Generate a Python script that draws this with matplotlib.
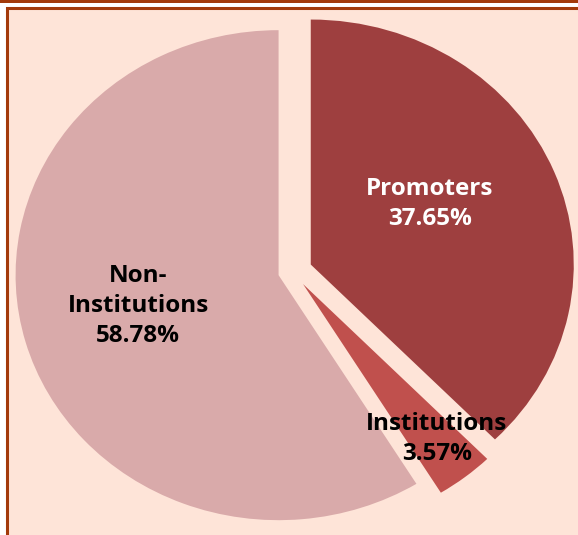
import matplotlib
matplotlib.use("Agg")
import matplotlib.pyplot as plt
from matplotlib.patches import Rectangle

# shareholding data
labels = ["Promoters", "Institutions", "Non-\nInstitutions"]
shares = [37.65, 3.57, 58.78]
colors = ["#9E3F3F", "#C0504D", "#D9AAAA"]
text_colors = ["white", "black", "black"]
explode = [0.075, 0.065, 0.055]

# label anchor positions (data units, relative to pie centre)
label_pos = [(0.523, 0.276), (0.549, -0.684), (-0.587, -0.141)]

W, H = 578, 535
fig = plt.figure(figsize=(W / 100, H / 100), dpi=100)
fig.patch.set_facecolor("white")

# frame / background
fig.patches.append(Rectangle((0, 1 - 2.5 / H), 1, 2.5 / H, transform=fig.transFigure,
                             facecolor="#A33A0A", edgecolor="none", zorder=0))
fig.patches.append(Rectangle((6.5 / W, -0.05), 1, 1.05 - 7.5 / H, transform=fig.transFigure,
                             facecolor="#FEE4D8", edgecolor="#A33A0A", linewidth=2.2, zorder=0))

ax = fig.add_axes([0, 0, 1, 1])
ax.set_zorder(2)
ax.patch.set_alpha(0)

wedges, _ = ax.pie(shares, colors=colors, explode=explode, startangle=90,
                   counterclock=False, radius=1.0,
                   wedgeprops=dict(linewidth=0))

# centre of pie in pixels and radii (image is stretched horizontally)
cx, cy = 292.5, 271.5
rx, ry = 263.0, 245.0
ax.set_aspect("auto")
ax.set_xlim(-cx / rx, (W - cx) / rx)
ax.set_ylim(-(H - cy) / ry, cy / ry)
ax.axis("off")

for lab, val, (x, y), tc in zip(labels, shares, label_pos, text_colors):
    ax.text(x, y, f"{lab}\n{val:.2f}%", ha="center", va="center",
            multialignment="center", color=tc, fontsize=17.5,
            family=["Open Sans", "DejaVu Sans"], weight="bold", linespacing=1.35)

fig.savefig("out.png", dpi=100, facecolor=fig.get_facecolor())
